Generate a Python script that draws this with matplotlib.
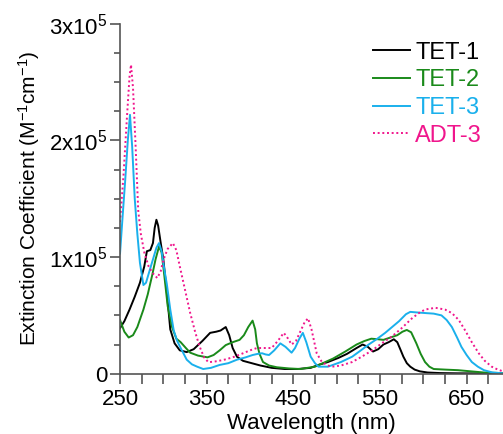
import matplotlib
matplotlib.use("Agg")
import matplotlib.pyplot as plt
from matplotlib.ticker import MultipleLocator, FixedLocator
import numpy as np

plt.rcParams['font.family'] = ['Liberation Sans', 'DejaVu Sans']
plt.rcParams['mathtext.fontset'] = 'custom'
plt.rcParams['mathtext.rm'] = 'Liberation Sans'
plt.rcParams['mathtext.it'] = 'Liberation Sans'
plt.rcParams['axes.unicode_minus'] = False

# absorption spectra, values in units of 1e5 M^-1 cm^-1
tet1_wl = [250, 255, 261, 267, 273, 278, 281, 285, 288, 290, 292, 294, 297, 300, 304, 308, 313, 319, 327,
           335, 345, 354, 361, 366, 372, 376, 380, 385, 392, 402, 412, 425, 440, 455, 470, 479, 490, 502,
           512, 523, 530, 536, 542, 548, 554, 560, 566, 570, 574, 577, 581, 585, 590, 596, 605, 620, 640, 692]
tet1_v = [0.39, 0.45, 0.55, 0.66, 0.78, 0.92, 1.05, 1.06, 1.12, 1.25, 1.32, 1.27, 1.12, 0.98, 0.70, 0.38,
          0.26, 0.20, 0.185, 0.21, 0.28, 0.35, 0.36, 0.37, 0.40, 0.33, 0.22, 0.145, 0.11, 0.09, 0.07, 0.05,
          0.04, 0.04, 0.05, 0.075, 0.10, 0.135, 0.17, 0.22, 0.25, 0.23, 0.19, 0.21, 0.25, 0.27, 0.295, 0.27,
          0.20, 0.146, 0.09, 0.06, 0.035, 0.02, 0.01, 0.005, 0.003, 0.002]

tet2_wl = [250, 255, 260, 265, 270, 277, 282, 287, 291, 295, 298, 301, 305, 310, 315, 320, 326, 331, 340,
           351, 358, 365, 372, 380, 388, 393, 398, 403, 406, 408, 411, 415, 422, 431, 445, 458, 475, 496,
           510, 523, 532, 540, 548, 554, 562, 570, 576, 581, 586, 592, 597, 602, 607, 612, 625, 640, 655,
           670, 692]
tet2_v = [0.46, 0.36, 0.31, 0.33, 0.40, 0.55, 0.68, 0.84, 0.98, 1.09, 1.04, 0.85, 0.58, 0.40, 0.30, 0.27,
          0.22, 0.18, 0.155, 0.14, 0.16, 0.20, 0.245, 0.27, 0.29, 0.33, 0.40, 0.455, 0.38, 0.26, 0.17, 0.10,
          0.07, 0.055, 0.045, 0.04, 0.06, 0.13, 0.19, 0.25, 0.28, 0.30, 0.295, 0.29, 0.31, 0.33, 0.36,
          0.375, 0.355, 0.26, 0.17, 0.10, 0.06, 0.04, 0.035, 0.03, 0.02, 0.01, 0.005]

tet3_wl = [250, 253, 256, 259, 261.5, 264, 267, 270, 273, 277, 280, 284, 288, 292, 295, 298, 301, 304,
           308, 312, 316, 320, 327, 333, 339, 346, 355, 365, 375, 385, 395, 403, 409, 414, 418, 422, 428,
           435, 441, 448, 452, 457, 461, 465, 470, 475, 479, 490, 505, 518, 528, 537, 547, 556, 564, 572,
           580, 585, 593, 602, 612, 621, 627, 633, 639, 644, 650, 656, 663, 670, 680, 692]
tet3_v = [1.03, 1.35, 1.66, 2.00, 2.22, 1.95, 1.50, 1.20, 0.95, 0.76, 0.78, 0.88, 0.98, 1.08, 1.12, 1.05,
          0.90, 0.77, 0.55, 0.37, 0.28, 0.22, 0.12, 0.08, 0.06, 0.04, 0.05, 0.075, 0.09, 0.12, 0.14, 0.16,
          0.17, 0.175, 0.165, 0.16, 0.20, 0.26, 0.23, 0.18, 0.22, 0.30, 0.35, 0.27, 0.146, 0.09, 0.06,
          0.06, 0.10, 0.146, 0.20, 0.25, 0.30, 0.35, 0.40, 0.45, 0.51, 0.53, 0.525, 0.52, 0.515, 0.50,
          0.46, 0.40, 0.31, 0.23, 0.16, 0.10, 0.06, 0.03, 0.01, 0.003]

adt3_wl = [250, 254, 258, 261, 262.7, 265, 268, 271, 274, 278, 283, 288, 293, 297, 300, 305, 311, 315,
           319, 325, 331, 337, 342, 347, 352, 360, 369, 380, 392, 400, 408, 418, 425, 432, 439, 444, 448,
           453, 458, 463, 467, 471, 477, 483, 490, 495, 505, 518, 530, 541, 552, 564, 575, 587, 595, 602,
           614, 625, 633, 641, 648, 656, 664, 671, 679, 686, 692]
adt3_v = [1.30, 1.70, 2.20, 2.55, 2.65, 2.45, 1.95, 1.40, 1.20, 1.04, 0.92, 0.86, 0.82, 0.88, 0.975, 1.07,
          1.12, 1.06, 0.92, 0.72, 0.52, 0.35, 0.23, 0.14, 0.098, 0.105, 0.117, 0.14, 0.175, 0.20, 0.22,
          0.22, 0.22, 0.28, 0.35, 0.30, 0.25, 0.28, 0.36, 0.44, 0.475, 0.38, 0.175, 0.10, 0.07, 0.06,
          0.07, 0.10, 0.15, 0.20, 0.26, 0.32, 0.39, 0.475, 0.52, 0.55, 0.565, 0.55, 0.52, 0.46, 0.375,
          0.27, 0.175, 0.11, 0.06, 0.035, 0.02]

labels = ["TET-1", "TET-2", "TET-3", "ADT-3"]
colors = ["#000000", "#1a8a1a", "#1ab0ec", "#f0168c"]
ytick_vals = [0, 1e5, 2e5, 3e5]
ytick_labels = ["0", r"1x10$^5$", r"2x10$^5$", r"3x10$^5$"]
xtick_vals = [250, 350, 450, 550, 650]

fig = plt.figure(figsize=(5.03, 4.34), dpi=100)
ax = fig.add_axes([0.2386, 0.139, 0.7614, 0.806])

series = [(tet1_wl, tet1_v), (tet2_wl, tet2_v), (tet3_wl, tet3_v), (adt3_wl, adt3_v)]
for (wl, v), lab, c in zip(series, labels, colors):
    ls = (0, (1, 1.4)) if lab == "ADT-3" else "-"
    ax.plot(wl, np.array(v) * 1e5, color=c, lw=1.4, ls=ls, label=lab)

ax.set_xlim(250, 692)
ax.set_ylim(0, 3e5)
ax.xaxis.set_major_locator(FixedLocator(xtick_vals))
ax.xaxis.set_minor_locator(MultipleLocator(25))
ax.set_yticks(ytick_vals)
ax.set_yticklabels(ytick_labels)
ax.yaxis.set_minor_locator(MultipleLocator(2.5e4))

for s in ["top", "right"]:
    ax.spines[s].set_visible(False)
for s in ["left", "bottom"]:
    ax.spines[s].set_color("#555555")
    ax.spines[s].set_linewidth(1.2)
ax.tick_params(axis="both", which="both", colors="#555555", labelcolor="black", labelsize=16, width=1.2)
ax.tick_params(axis="x", which="both", length=7, direction="out", pad=4)
ax.tick_params(axis="y", which="major", length=7, direction="out", pad=2)
ax.tick_params(axis="y", which="minor", length=4, direction="out")

ax.set_xlabel("Wavelength (nm)", fontsize=16, labelpad=2)
ax.set_ylabel(r"Extinction Coefficient (M$^{-1}$cm$^{-1}$)", fontsize=15)
ax.yaxis.set_label_coords(-0.205, 0.5)

leg = ax.legend(loc="upper right", bbox_to_anchor=(1.0, 1.01), frameon=False, fontsize=17,
                labelcolor="linecolor", handlelength=1.6, handletextpad=0.2, labelspacing=0.24)

fig.savefig("out.png", dpi=100)
